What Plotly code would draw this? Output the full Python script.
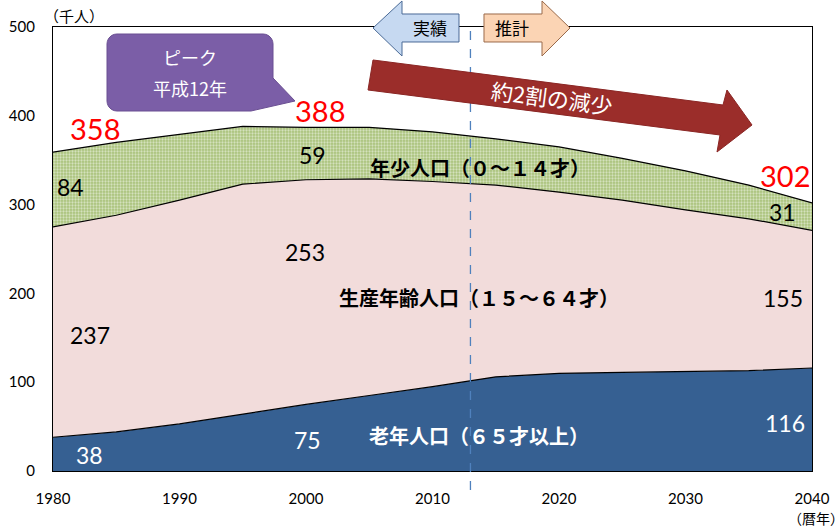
import math
import plotly.graph_objects as go

years = [1980, 1985, 1990, 1995, 2000, 2005, 2010, 2015, 2020, 2025, 2030, 2035, 2040]
elderly = [38, 44, 53, 64, 75, 85, 95, 106, 110, 111, 112, 113, 116]
working = [237, 244, 252, 259, 253, 244, 231, 216, 204, 194, 182, 171, 155]
youth = [84, 82, 74, 65, 59, 58, 56, 52, 51, 47, 44, 38, 31]
totals_labels = ["358", "388", "302"]
x_ticks = [1980, 1990, 2000, 2010, 2020, 2030, 2040]
y_ticks = [0, 100, 200, 300, 400, 500]
split_year = 2013

W, H = 836, 529
ML, MR, MT, MB = 53, 24, 27, 58
PW, PH = W - ML - MR, H - MT - MB

def px(x, y):
    return (x - ML) / PW, (H - MB - y) / PH

def path(points):
    s = ""
    for i, (x, y) in enumerate(points):
        a, b = px(x, y)
        s += ("M" if i == 0 else "L") + f"{a:.5f},{b:.5f} "
    return s + "Z"

JP = "Noto Sans CJK JP"
NUM = "Lato, Noto Sans"

fig = go.Figure()
fig.add_trace(go.Scatter(x=years, y=elderly, stackgroup="one", mode="lines",
                         line=dict(color="black", width=1.2), fillcolor="#366092",
                         hoverinfo="skip"))
fig.add_trace(go.Scatter(x=years, y=working, stackgroup="one", mode="lines",
                         line=dict(color="black", width=1.2), fillcolor="#f2dcdb",
                         hoverinfo="skip"))
fig.add_trace(go.Scatter(x=years, y=youth, stackgroup="one", mode="lines",
                         line=dict(color="black", width=1.2), fillcolor="#c4d79b",
                         fillpattern=dict(shape=".", fgcolor="#ffffff", bgcolor="#a9c27a",
                                          size=3, solidity=0.45),
                         hoverinfo="skip"))

shapes = []
# dashed split line
_, b1 = px(0, 490)
shapes.append(dict(type="line", xref="x", yref="paper", x0=split_year, x1=split_year,
                   y0=b1, y1=1, line=dict(color="#4f81bd", width=1.3, dash="dash")))
# left arrow 実績
shapes.append(dict(type="path", xref="paper", yref="paper",
                   path=path([(373, 28), (402, 1), (402, 14), (459, 14), (459, 42),
                              (402, 42), (402, 56)]),
                   fillcolor="#c6d9f1", line=dict(color="#4a6a96", width=1)))
# right arrow 推計
shapes.append(dict(type="path", xref="paper", yref="paper",
                   path=path([(484, 14), (542, 14), (542, 1), (570, 28), (542, 56),
                              (542, 42), (484, 42)]),
                   fillcolor="#fbd4b4", line=dict(color="#9a6a4a", width=1)))
# big red arrow
shapes.append(dict(type="path", xref="paper", yref="paper",
                   path=path([(373, 60), (723, 105), (727, 90), (752, 125), (717, 152),
                              (720, 135), (368, 90)]),
                   fillcolor="#9b2d2a", line=dict(color="#8a2624", width=1)))
# callout box (rounded) with tail
r = 10
L, T, R, B = 107, 34, 273, 111
def arc(cx, cy, a_start, a_end, n=6):
    out = []
    for k in range(n + 1):
        t = math.radians(a_start + (a_end - a_start) * k / n)
        out.append((cx + r * math.cos(t), cy + r * math.sin(t)))
    return out
pts = []
pts += arc(L + r, T + r, 180, 270)
pts += arc(R - r, T + r, 270, 360)
pts += [(R, 78), (295, 101), (R - 22, B)]
pts += [(L + r, B)]
pts += arc(L + r, B - r, 90, 180)
shapes.append(dict(type="path", xref="paper", yref="paper", path=path(pts),
                   fillcolor="#7b5ea7", line=dict(color="#6a4f92", width=1)))

ann = []
def txt(x, y, t, size, color="black", font=NUM, bold=False, angle=0, xanchor="center",
        ref="data"):
    if ref == "px":
        x, y = px(x, y)
        xr, yr = "paper", "paper"
    else:
        xr, yr = "x", "y"
    ann.append(dict(x=x, y=y, xref=xr, yref=yr, text=f"<b>{t}</b>" if bold else t,
                    showarrow=False, textangle=angle, xanchor=xanchor, yanchor="middle",
                    font=dict(size=size, color=color, family=font)))

# totals (red)
txt(1983.3, 386, totals_labels[0], 29, "#ff0000")
txt(2001.1, 406, totals_labels[1], 29, "#ff0000")
txt(2037.9, 333, totals_labels[2], 29, "#ff0000")
# segment values
txt(1981.4, 320, str(youth[0]), 23)
txt(2000.5, 356, str(youth[4]), 23)
txt(2037.7, 292, str(youth[-1]), 23)
txt(1999.9, 247, str(working[4]), 23)
txt(1982.9, 153, str(working[0]), 23)
txt(2037.7, 195, str(working[-1]), 23)
txt(1982.9, 18, str(elderly[0]), 23, "white")
txt(2000.1, 35, str(elderly[4]), 23, "white")
txt(2037.9, 54, str(elderly[-1]), 23, "white")
# group labels
txt(480, 167, "年少人口（０～１４才）", 20, "black", JP, True, ref="px")
txt(479, 297, "生産年齢人口（１５～６４才）", 20, "black", JP, True, ref="px")
txt(479, 435, "老年人口（６５才以上）", 20, "white", JP, True, ref="px")
# arrows text
txt(430, 28, "実績", 17, "black", JP, ref="px")
txt(512, 28, "推計", 17, "black", JP, ref="px")
txt(552, 97, "約2割の減少", 22, "white", JP, angle=7.3, ref="px")
# callout text
txt(190, 57, "ピーク", 18, "white", JP, ref="px")
txt(190, 88, "平成12年", 18, "white", JP, ref="px")
# axis units
txt(42, 15, "（千人）", 15, "black", JP, xanchor="left", ref="px")
txt(786, 518, "（暦年）", 14, "black", JP, xanchor="left", ref="px")

fig.update_layout(
    width=W, height=H,
    margin=dict(l=ML, r=MR, t=MT, b=MB, autoexpand=False),
    plot_bgcolor="white", paper_bgcolor="white",
    showlegend=False, hovermode=False,
    shapes=shapes, annotations=ann,
    xaxis=dict(range=[1980, 2040], tickvals=x_ticks, showgrid=False, zeroline=False,
               showline=True, linecolor="black", linewidth=1.2, mirror=True,
               ticks="", ticklabelstandoff=14, automargin=False,
               tickfont=dict(size=15, family=NUM, color="black")),
    yaxis=dict(range=[0, 500], tickvals=y_ticks, showgrid=False, zeroline=False,
               showline=True, linecolor="black", linewidth=1.2, mirror=True,
               ticks="", ticklabelstandoff=14, automargin=False,
               tickfont=dict(size=15, family=NUM, color="black")),
)
fig.write_html("out.html", config={"displayModeBar": False},
               post_script="document.body.style.margin='0';document.body.style.overflow='hidden';")
